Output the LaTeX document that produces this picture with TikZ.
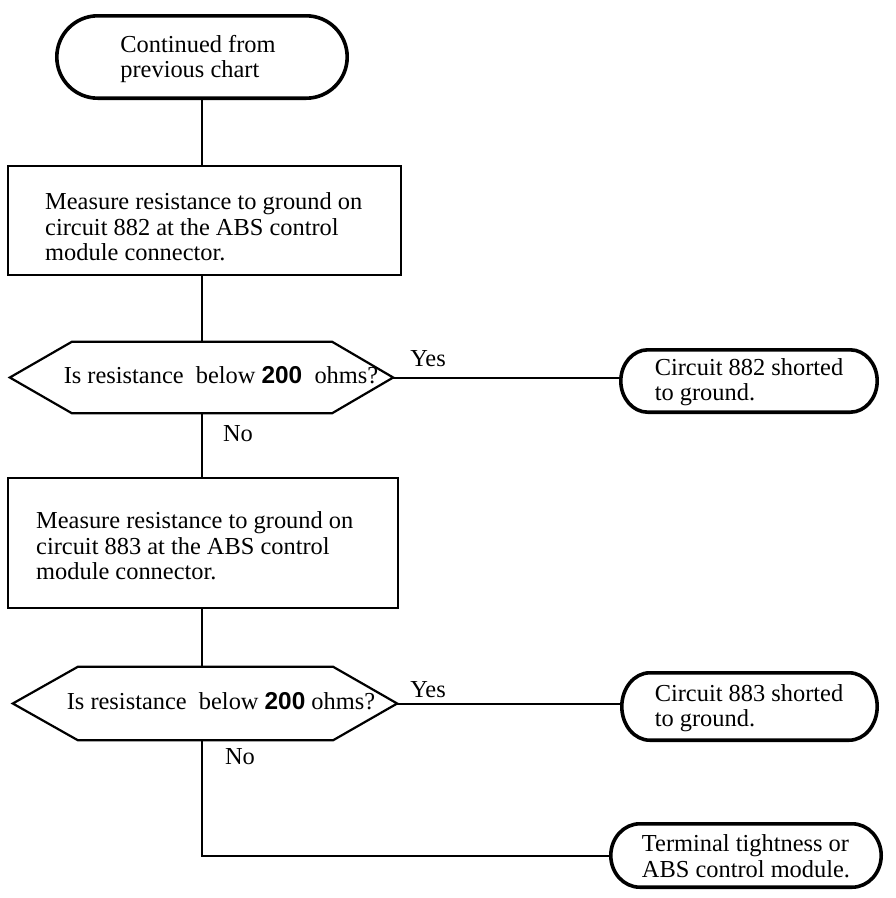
\documentclass[tikz,border=0pt]{standalone}
\usepackage{fontspec}
\setmainfont{Liberation Serif}
\setsansfont{Liberation Sans}
\usetikzlibrary{calc}
\tikzset{
  conn/.style={draw=black, line width=2pt},
  boxline/.style={draw=black, line width=2.2pt},
  termline/.style={draw=black, line width=3.6pt},
  frame/.style={draw=none, rectangle, inner sep=0pt},
  txt/.style={align=left, inner sep=0pt, font=\fontsize{24.4}{25.4}\selectfont},
  lbl/.style={inner sep=0pt, font=\fontsize{24.4}{25.4}\selectfont},
}
\newcommand\stadiumpath[2]{%
  \draw[termline] let \p1=(#1.north east), \p2=(#1.south west), \n1={(\y1-\y2)/2} in
    ({\x2+#2},\y1) -- ({\x1-#2},\y1)
    arc[start angle=90, end angle=-90, x radius=#2, y radius=\n1]
    -- ({\x2+#2},\y2)
    arc[start angle=270, end angle=90, x radius=#2, y radius=\n1] -- cycle;}
\newcommand\bnum[1]{{\sffamily\bfseries #1}}
\begin{document}
\begin{tikzpicture}[x=1pt,y=1pt]
\useasboundingbox[fill=white] (0,0) rectangle (896,-898);

% start terminal
\node[frame, minimum width=290pt, minimum height=82pt] (t0) at (202,-57) {};
\stadiumpath{t0}{41pt}
\node[txt] (t0t) at (198,-59) {Continued from\\previous chart};

% box 1
\node[frame, minimum width=393pt, minimum height=109pt] (b1) at (204.5,-220.5) {};
\draw[boxline] (b1.north west) rectangle (b1.south east);
\node[txt, anchor=west] (b1t) at (45,-227) {Measure resistance to ground on\\circuit 882 at the ABS control\\module connector.};

% question 1
\node[frame, minimum width=260pt, minimum height=71pt] (q1) at (202,-377.5) {};
\coordinate (q1e) at ([xshift=61pt]q1.east);
\coordinate (q1w) at ([xshift=-62pt]q1.west);
\draw[boxline] (q1.north west) -- (q1.north east) -- (q1e) -- (q1.south east) -- (q1.south west) -- (q1w) -- cycle;
\node[lbl] (q1t) at (221,-375) {Is resistance~ below \bnum{200}~ ohms?};

% result 1
\node[frame, minimum width=256pt, minimum height=62pt] (t1) at (749,-381) {};
\stadiumpath{t1}{27pt}
\node[txt] (t1t) at (749,-382) {Circuit 882 shorted\\to ground.};

% box 2
\node[frame, minimum width=390pt, minimum height=130pt] (b2) at (203,-543) {};
\draw[boxline] (b2.north west) rectangle (b2.south east);
\node[txt, anchor=west] (b2t) at (36,-546) {Measure resistance to ground on\\circuit 883 at the ABS control\\module connector.};

% question 2
\node[frame, minimum width=255pt, minimum height=73pt] (q2) at (205.5,-703.5) {};
\coordinate (q2e) at ([xshift=64pt]q2.east);
\coordinate (q2w) at ([xshift=-65pt]q2.west);
\draw[boxline] (q2.north west) -- (q2.north east) -- (q2e) -- (q2.south east) -- (q2.south west) -- (q2w) -- cycle;
\node[lbl] (q2t) at (221,-701) {Is resistance~ below \bnum{200} ohms?};

% result 2
\node[frame, minimum width=255pt, minimum height=67pt] (t2) at (749.5,-706.5) {};
\stadiumpath{t2}{28pt}
\node[txt] (t2t) at (749,-708) {Circuit 883 shorted\\to ground.};

% result 3
\node[frame, minimum width=270pt, minimum height=63pt] (t3) at (746,-855.5) {};
\stadiumpath{t3}{29pt}
\node[txt] (t3t) at (746,-856) {Terminal tightness or\\ABS control module.};

% connectors
\draw[conn] (t0.south) -- (t0.south |- b1.north);
\draw[conn] (t0.south |- b1.south) -- (t0.south |- q1.north);
\draw[conn] (q1e) -- (q1e -| t1.west);
\draw[conn] (t0.south |- q1.south) -- (t0.south |- b2.north);
\draw[conn] (t0.south |- b2.south) -- (t0.south |- q2.north);
\draw[conn] (q2e) -- (q2e -| t2.west);
\draw[conn] (t0.south |- q2.south) |- (t3.west);

% labels
\node[lbl] (y1) at (428,-359) {Yes};
\node[lbl] (n1) at (238,-434) {No};
\node[lbl] (y2) at (428,-690) {Yes};
\node[lbl] (n2) at (240,-757) {No};
\end{tikzpicture}
\end{document}
